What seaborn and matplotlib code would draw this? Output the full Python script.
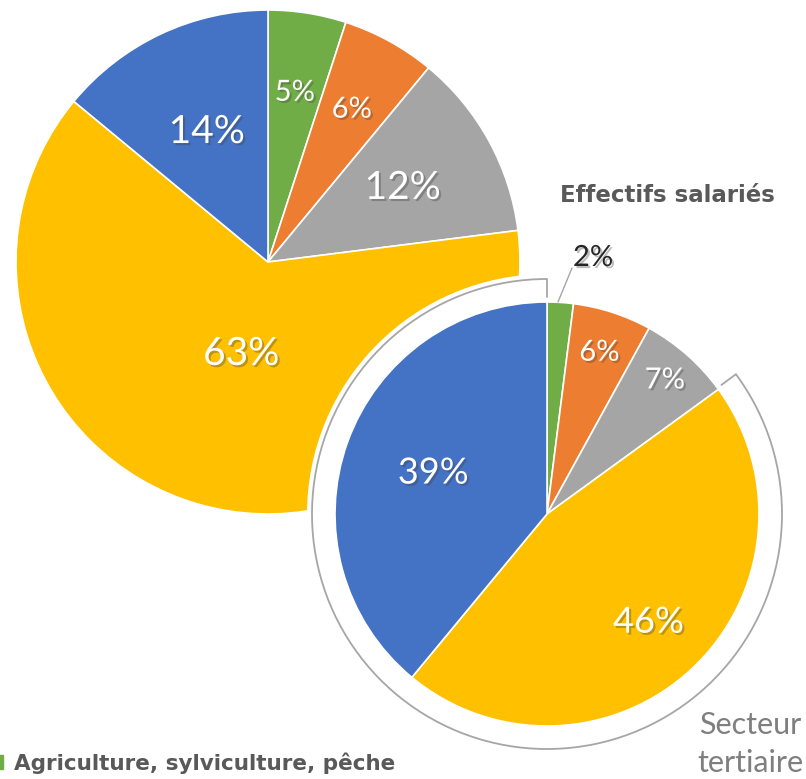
import numpy as np
import seaborn as sns
import matplotlib.pyplot as plt
import matplotlib.patheffects as pe
from matplotlib.patches import Circle, Arc, Patch

sns.set_theme(style='white')
plt.rcParams['font.family'] = ['Lato', 'DejaVu Sans']

# data
sectors = ['Agriculture, sylviculture, pêche', 'Industrie', 'Construction',
           'Commerce, transports, services', 'Administration, enseignement, santé']
etab = [5, 6, 12, 63, 14]
salaries = [2, 6, 7, 46, 39]
colors = sns.color_palette(['#70AD47', '#ED7D31', '#A5A5A5', '#FFC000', '#4472C4'])

W, H = 806, 779
fig = plt.figure(figsize=(W / 100, H / 100), dpi=100)
ax = fig.add_axes([0, 0, 1, 1])

big_c, big_r = (268, H - 262), 252
small_c, small_r = (547, H - 514), 212

shadow = [pe.SimplePatchShadow(offset=(1.5, -1.5), shadow_rgbFace='#404040', alpha=0.35),
          pe.Normal()]


def draw_pie(values, center, radius, dists, sizes, z):
    wedges, _ = ax.pie(values, colors=colors, startangle=90, counterclock=False,
                       center=center, radius=radius,
                       wedgeprops=dict(edgecolor='white', linewidth=1.2, zorder=z))
    for w, v, d, s in zip(wedges, values, dists, sizes):
        if d is None:
            continue
        ang = np.deg2rad((w.theta1 + w.theta2) / 2)
        x = center[0] + d * radius * np.cos(ang)
        y = center[1] + d * radius * np.sin(ang)
        ax.text(x, y, f'{v}%', color='white', fontsize=s,
                ha='center', va='center', zorder=z + 1, path_effects=shadow)
    return wedges


draw_pie(etab, big_c, big_r, [0.68, 0.69, 0.61, 0.38, 0.57], [21, 21, 28, 28, 28], 1)

# white halo + bracket arc around the small pie
ax.add_patch(Circle(small_c, 240, facecolor='white', edgecolor='none', zorder=3))
arc_r = 235
ax.add_patch(Arc(small_c, 2 * arc_r, 2 * arc_r, theta1=90, theta2=36.5,
                 color='#A6A6A6', lw=1.3, zorder=4))
for a in (90, 36.5):
    t = np.deg2rad(a)
    ax.plot([small_c[0] + arc_r * np.cos(t), small_c[0] + (arc_r - 18) * np.cos(t)],
            [small_c[1] + arc_r * np.sin(t), small_c[1] + (arc_r - 18) * np.sin(t)],
            color='#A6A6A6', lw=1.3, zorder=4)

wedges = draw_pie(salaries, small_c, small_r, [None, 0.80, 0.84, 0.70, 0.57],
                  [21, 21, 21, 26, 26], 5)

# outside label for the thin green wedge
ax.plot([558, 572], [H - 302, H - 268], color='#A6A6A6', lw=1, zorder=6)
ax.text(593, H - 258, f'{salaries[0]}%', color='#262626', fontsize=21,
        ha='center', va='center', zorder=6, path_effects=shadow)

ax.text(667, H - 195, 'Effectifs salariés', color='#595959', fontsize=16.5,
        fontweight='bold', family='DejaVu Sans', ha='center', va='center')
ax.text(750, H - 744, 'Secteur\ntertiaire', color='#7F7F7F', fontsize=22,
        ha='center', va='center', linespacing=1.4)

leg = ax.legend(handles=[Patch(color=colors[0], label=sectors[0])],
                loc='center left', bbox_to_anchor=(-0.012, (H - 763) / H),
                frameon=False, handlelength=0.6, handleheight=0.6,
                handletextpad=0.5, borderpad=0, borderaxespad=0,
                prop=dict(size=15.5, weight='bold', family='DejaVu Sans'))
for t in leg.get_texts():
    t.set_color('#595959')

ax.set_xlim(0, W)
ax.set_ylim(0, H)
ax.set_aspect('equal')
ax.axis('off')
fig.savefig('out.png', dpi=100)
